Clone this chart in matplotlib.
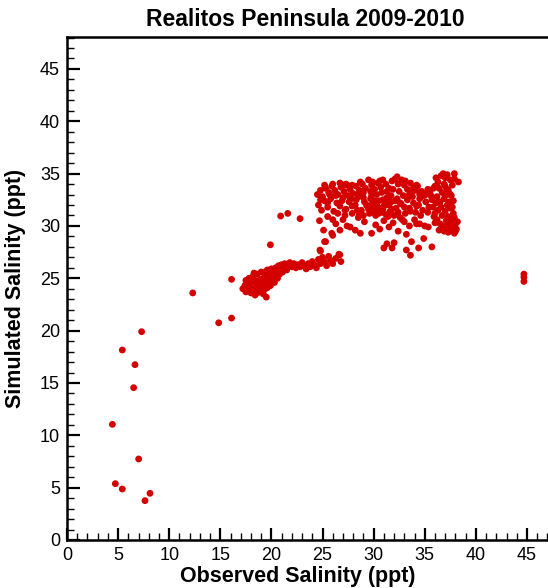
import matplotlib
matplotlib.use("Agg")
import matplotlib.pyplot as plt
from matplotlib.ticker import MultipleLocator

# observed / simulated salinity pairs (ppt)
obs_low = [12.3, 14.84, 7.3, 5.41, 6.65, 6.52, 4.44, 7.01, 4.73, 5.41, 8.12, 7.63,
           16.1, 16.1, 19.9, 20.9, 21.6, 22.8, 44.7, 44.7, 44.7]
sim_low = [23.6, 20.75, 19.9, 18.15, 16.75, 14.55, 11.05, 7.74, 5.38, 4.87, 4.46, 3.76,
           21.2, 24.9, 28.2, 30.95, 31.2, 30.7, 25.4, 25.1, 24.7]

obs_band = [17.4, 17.5, 17.6, 17.7, 17.8, 17.9, 18.0, 18.1, 18.2, 18.3, 18.4, 18.5,
            18.6, 18.7, 18.8, 18.9, 19.0, 19.1, 19.2, 19.3, 19.4, 19.5, 19.6, 19.7,
            19.8, 19.9, 20.0, 20.1, 20.2, 20.3, 20.4, 20.5, 20.6, 20.7, 20.8, 20.9,
            21.0, 21.1, 21.2, 21.3, 21.5, 21.6, 21.8, 22.0, 22.2, 22.4, 22.6, 22.8,
            23.0, 23.2, 23.4, 23.6, 23.8, 24.0, 24.2, 24.4, 24.6, 24.8, 25.0, 25.2,
            25.4, 25.6, 25.8, 26.0, 26.3, 26.6, 26.8,
            17.6, 18.0, 18.4, 18.9, 19.3, 19.7, 20.2, 19.0, 18.6, 19.5, 20.6, 21.4,
            17.2, 17.5, 17.9, 18.3, 18.8, 19.2, 19.6, 20.0, 20.4, 19.4, 18.5, 20.9,
            21.2, 24.75, 25.2, 26.0]
sim_band = [24.3, 24.8, 23.9, 24.5, 25.0, 24.2, 23.6, 24.7, 25.2, 24.0, 23.4, 24.5,
            25.4, 24.1, 23.7, 24.9, 25.6, 24.4, 23.5, 25.1, 24.0, 23.2, 25.8, 24.7,
            25.3, 24.3, 25.9, 25.0, 25.5, 24.6, 26.0, 25.2, 25.7, 26.2, 25.4, 25.9,
            26.3, 25.6, 26.0, 26.4, 25.8, 26.2, 26.5, 26.1, 26.4, 26.0, 26.3, 26.1,
            26.5, 26.2, 25.9, 26.4, 26.1, 26.6, 26.3, 26.0, 26.8, 26.4, 27.0, 26.6,
            26.2, 27.1, 26.7, 26.4, 26.9, 27.3, 26.6,
            24.6, 25.0, 24.8, 24.2, 24.6, 25.0, 24.9, 23.9, 23.6, 24.5, 25.0, 26.1,
            24.0, 23.7, 24.9, 25.5, 24.4, 24.9, 24.1, 24.6, 25.4, 25.6, 23.9, 26.2,
            25.8, 27.7, 28.5, 29.1]

obs_top = [24.5, 24.8, 25.0, 25.3, 25.6, 25.9, 26.2, 26.5, 26.8, 27.1, 27.4, 27.7,
           28.0, 28.3, 28.6, 28.9, 29.2, 29.5, 29.8, 30.1, 30.4, 30.7, 30.9, 31.2,
           31.5, 31.8, 32.1, 32.4, 32.75, 33.0, 33.3, 33.6, 33.9, 34.3, 34.7, 35.1,
           35.5, 35.85, 26.0, 27.0, 24.8, 25.5,
           25.2, 25.7, 26.3, 26.7, 27.3, 27.9, 28.5, 29.0, 29.7, 30.3, 30.8, 31.3,
           31.9, 32.5, 33.1, 33.7, 34.1, 34.5, 35.3, 30.6, 29.9, 28.7, 32.3, 34.2]
sim_top = [33.0, 33.4, 32.8, 33.6, 33.2, 33.8, 33.4, 33.0, 33.7, 33.3, 33.9, 33.5,
           33.1, 33.8, 33.4, 34.0, 33.6, 34.4, 33.9, 33.5, 34.1, 33.7, 34.4, 34.0,
           33.6, 34.3, 34.5, 34.0, 34.4, 33.9, 33.5, 34.1, 33.7, 33.8, 33.3, 33.0,
           33.2, 33.6, 34.0, 33.9, 32.5, 32.2,
           33.9, 33.0, 32.9, 34.1, 34.0, 33.9, 33.0, 33.2, 33.3, 33.0, 33.2, 33.3,
           33.5, 33.3, 34.3, 33.2, 33.4, 33.0, 33.5, 34.3, 34.2, 34.2, 34.7, 33.9]

obs_mid = [24.6, 24.9, 25.2, 25.5, 25.8, 26.1, 26.4, 26.7, 27.0, 27.3, 27.6, 27.9,
           28.2, 28.5, 28.8, 29.1, 29.4, 29.7, 30.0, 30.3, 30.6, 30.9, 31.2, 31.5,
           31.8, 32.1, 32.4, 32.7, 33.0, 33.3, 33.6, 33.9, 34.2, 34.5, 34.8, 35.1,
           35.4, 35.7, 36.0, 29.0, 29.6, 30.2, 30.8, 31.4, 32.0, 32.6, 29.3, 29.9,
           30.5, 31.1, 31.7, 32.3, 30.4, 31.0, 31.6, 30.0, 32.9, 33.5, 28.4, 27.8,
           26.5, 26.9, 27.2, 27.5, 27.9, 28.3, 28.6, 29.0, 29.5, 29.8, 30.1, 30.5,
           30.9, 31.3, 31.7, 32.2, 32.6, 33.1, 33.5, 33.8, 34.1, 34.4, 34.9, 35.3,
           35.8, 36.1, 35.6, 35.9, 34.6, 32.8]
sim_mid = [32.0, 31.5, 32.4, 31.8, 32.6, 31.4, 32.2, 31.9, 32.7, 31.6, 32.3, 31.2,
           32.0, 32.8, 31.5, 32.3, 31.9, 32.6, 31.3, 32.1, 31.7, 32.5, 31.1, 32.0,
           31.6, 32.4, 31.3, 32.1, 31.8, 32.5, 31.4, 32.2, 31.9, 32.6, 31.5, 32.3,
           31.8, 32.5, 31.2, 31.0, 31.2, 31.0, 31.3, 30.9, 31.0, 30.8, 32.0, 32.2,
           32.4, 32.2, 32.3, 32.6, 31.6, 31.9, 31.4, 31.8, 32.9, 33.0, 31.5, 32.6,
           31.2, 32.4, 31.5, 32.9, 31.9, 32.5, 31.2, 32.7, 31.6, 32.9, 32.4, 31.2,
           31.6, 32.7, 32.9, 31.7, 32.2, 31.2, 31.7, 32.8, 31.3, 32.0, 32.9, 31.3,
           31.8, 32.2, 32.9, 30.9, 31.0, 30.6]

obs_lowc = [24.7, 25.1, 25.3, 24.8, 25.9, 25.5, 26.3, 26.7, 27.0, 27.4, 27.7, 28.2,
            28.7, 29.1, 29.8, 30.2, 30.6, 31.0, 31.5, 31.9, 32.4, 28.5, 26.0, 27.2,
            33.0, 33.5, 34.0, 34.5, 35.0, 33.2,
            31.0, 31.8, 31.3, 33.7, 33.6, 34.9, 34.4, 35.7, 35.35, 36.0, 33.2, 34.2,
            26.7, 32.0]
sim_lowc = [30.5, 29.6, 28.5, 27.6, 29.3, 30.9, 30.2, 29.6, 30.6, 30.0, 29.9, 29.6,
            29.3, 30.4, 29.3, 30.1, 29.7, 30.5, 29.9, 30.3, 29.5, 30.8, 30.6, 31.0,
            30.4, 30.0, 30.6, 30.2, 30.0, 29.2,
            27.9, 27.9, 28.3, 28.5, 27.2, 28.8, 27.9, 28.0, 29.9, 30.3, 27.7, 30.2,
            27.25, 28.4]

obs_right = [36.3, 36.6, 36.8, 37.0, 37.2, 37.5, 37.7, 37.9, 38.3, 36.4, 36.7, 37.0,
             37.3, 37.6, 36.2, 36.5, 36.9, 37.2, 37.5, 37.8, 36.3, 36.7, 37.0, 37.3,
             37.6, 37.9, 38.0, 36.5, 36.8, 37.1, 37.4, 37.7, 38.1, 36.2, 37.8, 36.0,
             37.4, 38.0,
             36.9, 37.2, 37.5, 37.0, 37.4, 37.7, 36.6, 37.1, 37.5, 36.9, 37.3, 38.2,
             37.9, 36.4, 36.1, 37.9]
sim_right = [34.2, 34.8, 35.0, 34.6, 34.9, 34.4, 33.9, 34.5, 34.2, 33.6, 33.2, 33.8,
             33.4, 32.9, 32.8, 32.3, 32.6, 32.0, 31.7, 32.4, 31.5, 31.0, 31.4, 30.9,
             30.5, 30.8, 30.2, 30.2, 29.8, 30.1, 29.6, 29.9, 29.7, 30.6, 31.2, 33.8,
             33.1, 29.5,
             34.0, 33.5, 33.0, 32.9, 32.3, 31.8, 31.8, 30.5, 30.2, 29.5, 29.4, 30.4,
             29.3, 29.6, 34.6, 35.0]

observed = obs_low + obs_band + obs_top + obs_mid + obs_lowc + obs_right
simulated = sim_low + sim_band + sim_top + sim_mid + sim_lowc + sim_right

plt.rcParams['font.family'] = ['Liberation Sans', 'DejaVu Sans']

fig = plt.figure(figsize=(5.48, 5.88), dpi=100)
# axes reaches the right edge of the figure, like the cropped original
ax = fig.add_axes([67/548, 1 - 540/588, 481/548, 503/588])

ax.scatter(observed, simulated, s=24, color='#d40000', edgecolors='none', zorder=3,
           clip_on=False)

ax.set_xlim(0, 47.06)
ax.set_ylim(0, 48.05)
ax.xaxis.set_major_locator(MultipleLocator(5))
ax.xaxis.set_minor_locator(MultipleLocator(1))
ax.yaxis.set_major_locator(MultipleLocator(5))
ax.yaxis.set_minor_locator(MultipleLocator(1))
ax.tick_params(which='major', direction='in', length=9, width=1.6, labelsize=13, pad=5)
ax.tick_params(which='minor', direction='in', length=5, width=1.0)
for sp in ax.spines.values():
    sp.set_linewidth(1.8)
ax.spines['right'].set_visible(False)

ax.set_title('Realitos Peninsula 2009-2010', fontsize=16.5, fontweight='bold', pad=8,
             x=0.495)
ax.set_xlabel('Observed Salinity (ppt)', fontsize=15.5, fontweight='bold')
ax.xaxis.set_label_coords(0.48, -0.052)
ax.set_ylabel('Simulated Salinity (ppt)', fontsize=15.5, fontweight='bold')
ax.yaxis.set_label_coords(-0.085, 0.5)

fig.savefig('out.png', dpi=100)
